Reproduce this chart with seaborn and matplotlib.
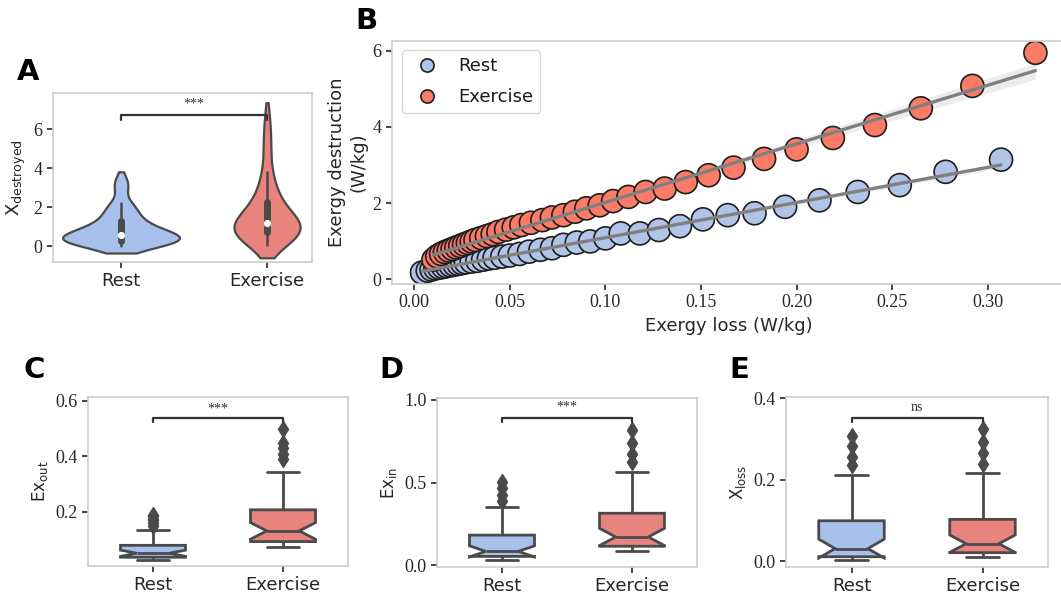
import matplotlib
matplotlib.use("Agg")
import matplotlib.pyplot as plt
from matplotlib.lines import Line2D
import pandas as pd
import seaborn as sns

groups = ["Rest", "Exercise"]
fill_colors = ["#a7c0ec", "#e8837d"]
dot_colors = ["#afc4e6", "#fb7b67"]
line_dark = "#4a4a4a"

# A: X destroyed (violins)
xdes_rest = [0.0, 0.06, 0.1, 0.13, 0.16, 0.18, 0.2, 0.22, 0.24, 0.26,
             0.29, 0.32, 0.35, 0.38, 0.41, 0.44, 0.47, 0.5, 0.53, 0.56,
             0.6, 0.64, 0.69, 0.75, 0.82, 0.89, 0.97, 1.06, 1.15, 1.25,
             1.36, 1.5, 1.65, 1.8, 1.95, 2.08, 2.2, 2.9, 3.15, 3.45]
xdes_exercise = [0.05, 0.18, 0.28, 0.36, 0.43, 0.49, 0.54, 0.58, 0.62, 0.66,
                 0.71, 0.76, 0.81, 0.86, 0.91, 0.96, 1.01, 1.06, 1.11, 1.16,
                 1.22, 1.29, 1.37, 1.46, 1.56, 1.67, 1.79, 1.92, 2.06, 2.2,
                 2.38, 2.6, 2.85, 3.15, 3.5, 3.8, 4.7, 5.2, 5.9, 6.7]

# B: exergy loss vs exergy destruction
loss_rest = [0.004, 0.007, 0.009, 0.011, 0.013, 0.015, 0.017, 0.019, 0.021, 0.023,
             0.025, 0.027, 0.030, 0.033, 0.036, 0.039, 0.042, 0.046, 0.050, 0.055,
             0.060, 0.066, 0.072, 0.078, 0.085, 0.092, 0.100, 0.108, 0.118, 0.128,
             0.139, 0.151, 0.164, 0.178, 0.194, 0.212, 0.232, 0.254, 0.278, 0.307]
destr_rest = [0.17, 0.22, 0.25, 0.28, 0.30, 0.32, 0.34, 0.36, 0.38, 0.40,
              0.42, 0.44, 0.46, 0.48, 0.51, 0.54, 0.56, 0.59, 0.62, 0.66,
              0.72, 0.77, 0.81, 0.90, 0.96, 0.99, 1.07, 1.20, 1.20, 1.29,
              1.39, 1.57, 1.68, 1.73, 1.90, 2.07, 2.29, 2.47, 2.82, 3.14]
loss_exercise = [0.010, 0.012, 0.014, 0.016, 0.018, 0.020, 0.022, 0.024, 0.026, 0.028,
                 0.030, 0.032, 0.035, 0.038, 0.041, 0.044, 0.048, 0.052, 0.056, 0.061,
                 0.067, 0.072, 0.078, 0.084, 0.090, 0.097, 0.104, 0.112, 0.121, 0.131,
                 0.142, 0.154, 0.167, 0.183, 0.200, 0.219, 0.241, 0.265, 0.292, 0.325]
destr_exercise = [0.51, 0.60, 0.66, 0.71, 0.75, 0.79, 0.83, 0.87, 0.91, 0.95,
                  0.99, 1.03, 1.08, 1.13, 1.18, 1.24, 1.30, 1.36, 1.42, 1.48,
                  1.55, 1.62, 1.68, 1.77, 1.86, 1.94, 2.05, 2.16, 2.29, 2.38,
                  2.55, 2.73, 2.93, 3.16, 3.41, 3.71, 4.05, 4.49, 5.08, 5.95]

# C: Ex_out
exout_rest = [0.025, 0.026, 0.027, 0.028, 0.029, 0.03, 0.031, 0.033, 0.035,
              0.037, 0.039, 0.041, 0.042, 0.044, 0.045, 0.047, 0.048, 0.05,
              0.052, 0.054, 0.056, 0.058, 0.061, 0.064, 0.067, 0.074, 0.076,
              0.09, 0.11, 0.135, 0.15, 0.16, 0.17, 0.175, 0.185, 0.19]
exout_exercise = [0.075, 0.077, 0.079, 0.081, 0.083, 0.085, 0.087, 0.089, 0.09,
                  0.094, 0.098, 0.102, 0.106, 0.11, 0.114, 0.119, 0.124, 0.129,
                  0.134, 0.14, 0.147, 0.155, 0.163, 0.172, 0.181, 0.19, 0.2,
                  0.23, 0.27, 0.31, 0.345, 0.39, 0.41, 0.43, 0.45, 0.50]

# D: Ex_in
exin_rest = [0.03, 0.033, 0.036, 0.039, 0.042, 0.044, 0.046, 0.048, 0.05,
             0.053, 0.056, 0.059, 0.062, 0.066, 0.07, 0.074, 0.077, 0.08,
             0.085, 0.092, 0.1, 0.11, 0.12, 0.132, 0.145, 0.16, 0.175,
             0.2, 0.235, 0.27, 0.31, 0.35, 0.39, 0.425, 0.465, 0.505]
exin_exercise = [0.085, 0.088, 0.091, 0.094, 0.097, 0.1, 0.103, 0.106, 0.11,
                 0.115, 0.12, 0.126, 0.132, 0.138, 0.145, 0.152, 0.158, 0.165,
                 0.175, 0.187, 0.2, 0.215, 0.23, 0.248, 0.267, 0.286, 0.305,
                 0.34, 0.38, 0.43, 0.49, 0.565, 0.625, 0.675, 0.74, 0.82]

# E: X_loss
xloss_rest = [0.0025, 0.003, 0.004, 0.005, 0.006, 0.007, 0.008, 0.0085, 0.009,
              0.011, 0.013, 0.015, 0.017, 0.019, 0.021, 0.024, 0.027, 0.029,
              0.032, 0.036, 0.041, 0.048, 0.056, 0.065, 0.074, 0.085, 0.095,
              0.11, 0.13, 0.16, 0.19, 0.211, 0.236, 0.255, 0.283, 0.308]
xloss_exercise = [0.009, 0.011, 0.012, 0.013, 0.014, 0.015, 0.016, 0.017, 0.019,
                  0.021, 0.023, 0.025, 0.027, 0.029, 0.032, 0.035, 0.038, 0.041,
                  0.044, 0.048, 0.053, 0.058, 0.064, 0.071, 0.079, 0.088, 0.098,
                  0.115, 0.135, 0.16, 0.19, 0.217, 0.238, 0.266, 0.293, 0.325]

a_yticks = [0, 2, 4, 6]
b_xticks = [0.0, 0.05, 0.10, 0.15, 0.20, 0.25, 0.30]
b_xlabels = ["0.00", "0.05", "0.10", "0.15", "0.20", "0.25", "0.30"]
b_yticks = [0, 2, 4, 6]
c_yticks = [0.2, 0.4, 0.6]
d_yticks = [0.0, 0.5, 1.0]
e_yticks = [0.0, 0.2, 0.4]


def long_table(rest, exercise):
    return pd.DataFrame({"group": ["Rest"] * len(rest) + ["Exercise"] * len(exercise),
                         "value": rest + exercise})


sns.set_theme(style="white", rc={
    "axes.edgecolor": ".8", "axes.linewidth": 1.2,
    "xtick.bottom": True, "ytick.left": True,
    "xtick.major.size": 4, "ytick.major.size": 4,
    "xtick.major.width": 1.2, "ytick.major.width": 1.2,
    "xtick.color": ".15", "ytick.color": ".15",
    "axes.labelcolor": ".15", "text.color": ".1",
})
plt.rcParams["font.family"] = ["DejaVu Sans"]

W, H = 1061, 599
fig = plt.figure(figsize=(W / 100, H / 100), dpi=100)


def frac(left, top, right, bottom):
    return [left / W, 1 - bottom / H, (right - left) / W, (bottom - top) / H]


def serif_y(ax, ticks, labels):
    ax.set_yticks(ticks)
    ax.set_yticklabels(labels, fontfamily="Liberation Serif", fontsize=13)


def bracket(ax, y, drop, text, ty):
    ax.plot([0, 0, 1, 1], [y - drop, y, y, y - drop], color="#333333", lw=1.6)
    ax.text(0.5, ty, text, ha="center", va="center", fontsize=10,
            fontfamily="Liberation Serif", color="#333333")


def draw_box(ax, rest, exercise):
    sns.boxplot(data=long_table(rest, exercise), x="group", y="value", hue="group",
                order=groups, hue_order=groups, palette=fill_colors, saturation=1,
                legend=False, width=0.5, notch=True, linewidth=2, linecolor=line_dark,
                flierprops=dict(marker="d", markersize=8, markerfacecolor=line_dark,
                                markeredgecolor=line_dark), ax=ax)
    ax.set_xlabel("")
    ax.set_xlim(-0.5, 1.5)
    ax.tick_params(axis="x", labelsize=13)


# ---- A
axA = fig.add_axes(frac(53, 93, 312, 262))
sns.violinplot(data=long_table(xdes_rest, xdes_exercise), x="group", y="value", hue="group",
               order=groups, hue_order=groups, palette=fill_colors, saturation=1, legend=False,
               linewidth=1.6, linecolor=line_dark, bw_adjust=0.95, cut=0.9, common_norm=True,
               inner="box", inner_kws=dict(box_width=5, whis_width=1.8, marker="o"), ax=axA)
axA.set_xlim(-0.466, 1.308)
axA.set_ylim(-0.82, 7.85)
serif_y(axA, a_yticks, [str(t) for t in a_yticks])
axA.set_xlabel("")
axA.set_ylabel(r"X$_{\mathregular{destroyed}}$", fontsize=13)
axA.tick_params(axis="x", labelsize=13)
bracket(axA, 6.72, 0.27, "***", 7.3)

# ---- B
axB = fig.add_axes(frac(392, 41, 1066, 284))
dfB = pd.DataFrame({"loss": loss_rest + loss_exercise,
                    "destruction": destr_rest + destr_exercise,
                    "group": ["Rest"] * len(loss_rest) + ["Exercise"] * len(loss_exercise)})
sns.scatterplot(data=dfB, x="loss", y="destruction", hue="group", hue_order=groups,
                palette=dot_colors, s=275, edgecolor="#1e1e1e", linewidth=1.2,
                legend=False, zorder=2, ax=axB)
for xs, ys in [(loss_rest, destr_rest), (loss_exercise, destr_exercise)]:
    sns.regplot(x=xs, y=ys, scatter=False, color="#808080", seed=0,
                line_kws=dict(lw=2.4, zorder=3), ax=axB)
axB.set_xlim(-0.0117, 0.341)
axB.set_ylim(-0.13, 6.26)
axB.set_xticks(b_xticks)
axB.set_xticklabels(b_xlabels, fontfamily="Liberation Serif", fontsize=13)
serif_y(axB, b_yticks, [str(t) for t in b_yticks])
axB.set_xlabel("Exergy loss (W/kg)", fontsize=13)
axB.set_ylabel("Exergy destruction\n(W/kg)", fontsize=13)
handles = [Line2D([], [], ls="", marker="o", markersize=9.5, markerfacecolor=c,
                  markeredgecolor="#1e1e1e", markeredgewidth=1.2) for c in dot_colors]
axB.legend(handles, groups, loc="upper left", bbox_to_anchor=(0.0148, 0.963),
           borderaxespad=0, fontsize=13, labelspacing=0.7, handletextpad=0.7,
           frameon=True, edgecolor="0.8")

# ---- C, D, E
axC = fig.add_axes(frac(88, 397, 348, 566))
draw_box(axC, exout_rest, exout_exercise)
axC.set_ylim(0.005, 0.614)
serif_y(axC, c_yticks, ["0.2", "0.4", "0.6"])
axC.set_ylabel(r"Ex$_{\mathregular{out}}$", fontsize=12)
bracket(axC, 0.54, 0.015, "***", 0.572)

axD = fig.add_axes(frac(437, 398, 697, 567))
draw_box(axD, exin_rest, exin_exercise)
axD.set_ylim(-0.012, 1.012)
serif_y(axD, d_yticks, ["0.0", "0.5", "1.0"])
axD.set_ylabel(r"Ex$_{\mathregular{in}}$", fontsize=12)
bracket(axD, 0.893, 0.025, "***", 0.955)

axE = fig.add_axes(frac(786, 397, 1048, 567))
draw_box(axE, xloss_rest, xloss_exercise)
axE.set_ylim(-0.0147, 0.4025)
serif_y(axE, e_yticks, ["0.0", "0.2", "0.4"])
axE.set_ylabel(r"X$_{\mathregular{loss}}$", fontsize=12)
bracket(axE, 0.351, 0.01, "ns", 0.377)

# panel letters
for letter, (px, py) in zip("ABCDE", [(28, 72), (366, 21), (34, 370), (391, 370), (739, 370)]):
    fig.text(px / W, 1 - py / H, letter, ha="center", va="center", fontsize=21,
             fontweight="bold", color="black")

fig.savefig("out.png", dpi=100)
